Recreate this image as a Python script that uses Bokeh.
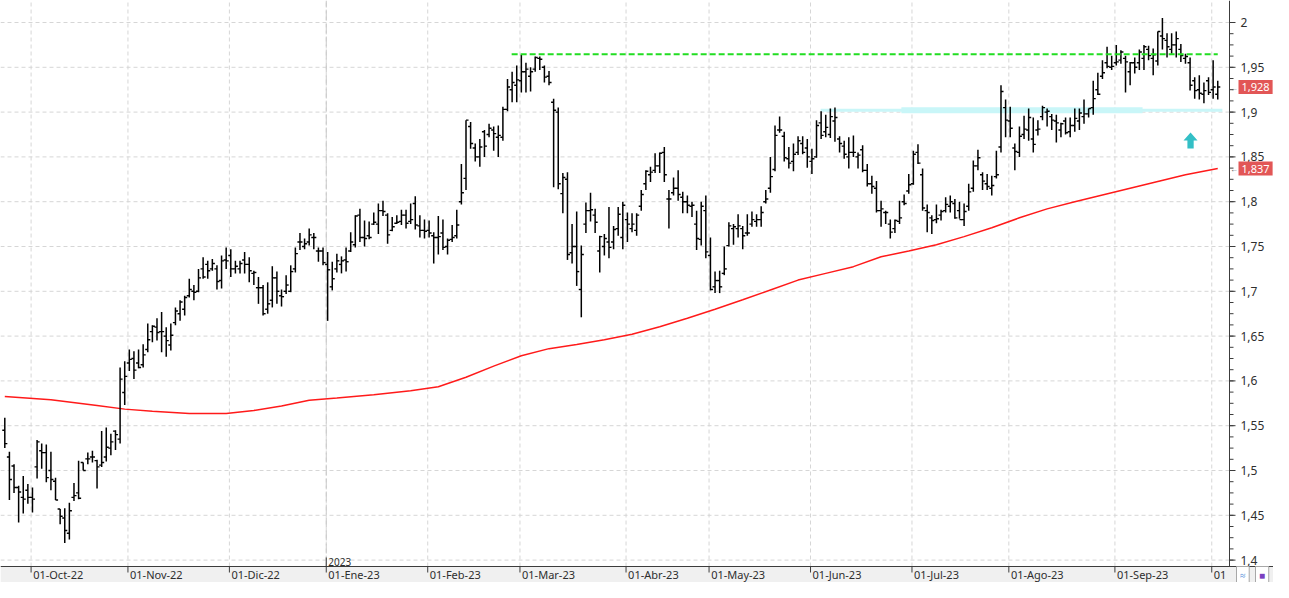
from bokeh.plotting import figure
from bokeh.models import Range1d, Label, LabelSet, ColumnDataSource
from bokeh.core.properties import value
from bokeh.embed import file_html
from bokeh.resources import INLINE

# ---------------- data (daily OHLC, index = trading day) ----------------
opens = [
    1.545, 1.515, 1.505, 1.481, 1.470, 1.478, 1.470, 1.504, 1.522, 1.520,
    1.500, 1.488, 1.457, 1.447, 1.430, 1.470, 1.475, 1.509, 1.513, 1.515,
    1.511, 1.506, 1.515, 1.525, 1.544, 1.535, 1.587, 1.620, 1.625, 1.620,
    1.618, 1.635, 1.655, 1.660, 1.655, 1.650, 1.640, 1.665, 1.675, 1.680,
    1.695, 1.700, 1.700, 1.725, 1.730, 1.725, 1.725, 1.712, 1.735, 1.740,
    1.725, 1.725, 1.735, 1.730, 1.720, 1.704, 1.704, 1.680, 1.690, 1.715,
    1.695, 1.700, 1.700, 1.725, 1.755, 1.750, 1.755, 1.760, 1.745, 1.745,
    1.730, 1.705, 1.725, 1.730, 1.735, 1.745, 1.752, 1.785, 1.760, 1.762,
    1.775, 1.775, 1.790, 1.785, 1.768, 1.776, 1.778, 1.785, 1.778, 1.798,
    1.773, 1.768, 1.768, 1.762, 1.760, 1.765, 1.750, 1.758, 1.762, 1.800,
    1.826, 1.884, 1.860, 1.850, 1.878, 1.875, 1.880, 1.872, 1.872, 1.903,
    1.925, 1.930, 1.935, 1.945, 1.940, 1.948, 1.960, 1.950, 1.940, 1.911,
    1.900, 1.809, 1.825, 1.743, 1.750, 1.702, 1.775, 1.790, 1.785, 1.745,
    1.750, 1.755, 1.755, 1.770, 1.760, 1.780, 1.770, 1.768, 1.795, 1.820,
    1.830, 1.835, 1.840, 1.855, 1.803, 1.810, 1.815, 1.805, 1.800, 1.795,
    1.775, 1.758, 1.790, 1.740, 1.705, 1.712, 1.720, 1.751, 1.770, 1.770,
    1.770, 1.765, 1.775, 1.778, 1.780, 1.800, 1.815, 1.836, 1.880, 1.873,
    1.848, 1.845, 1.855, 1.865, 1.860, 1.845, 1.850, 1.888, 1.878, 1.875,
    1.890, 1.870, 1.862, 1.850, 1.855, 1.850, 1.858, 1.835, 1.820, 1.815,
    1.790, 1.788, 1.775, 1.770, 1.778, 1.800, 1.812, 1.820, 1.855, 1.830,
    1.790, 1.782, 1.780, 1.785, 1.790, 1.795, 1.798, 1.790, 1.780, 1.795,
    1.815, 1.840, 1.830, 1.820, 1.815, 1.828, 1.861, 1.905, 1.890, 1.860,
    1.855, 1.875, 1.880, 1.870, 1.880, 1.895, 1.900, 1.895, 1.890, 1.880,
    1.890, 1.878, 1.885, 1.890, 1.895, 1.898, 1.905, 1.925, 1.940, 1.955,
    1.950, 1.955, 1.958, 1.960, 1.945, 1.955, 1.955, 1.960, 1.970, 1.960,
    1.957, 1.985, 1.980, 1.970, 1.975, 1.970, 1.960, 1.955, 1.935, 1.925,
    1.920, 1.935, 1.925, 1.920,
]
highs = [
    1.559, 1.521, 1.507, 1.483, 1.494, 1.485, 1.481, 1.534, 1.530, 1.529,
    1.521, 1.492, 1.457, 1.458, 1.464, 1.486, 1.511, 1.509, 1.520, 1.522,
    1.512, 1.544, 1.548, 1.541, 1.545, 1.615, 1.622, 1.635, 1.633, 1.635,
    1.641, 1.664, 1.662, 1.670, 1.677, 1.660, 1.664, 1.682, 1.690, 1.695,
    1.714, 1.707, 1.725, 1.738, 1.734, 1.736, 1.729, 1.740, 1.749, 1.747,
    1.734, 1.734, 1.744, 1.738, 1.723, 1.716, 1.707, 1.710, 1.728, 1.722,
    1.702, 1.718, 1.729, 1.749, 1.765, 1.759, 1.770, 1.765, 1.749, 1.749,
    1.744, 1.733, 1.742, 1.739, 1.749, 1.766, 1.785, 1.792, 1.779, 1.778,
    1.788, 1.798, 1.801, 1.787, 1.783, 1.785, 1.791, 1.791, 1.798, 1.806,
    1.785, 1.780, 1.779, 1.766, 1.784, 1.780, 1.759, 1.774, 1.791, 1.842,
    1.891, 1.889, 1.865, 1.870, 1.880, 1.887, 1.884, 1.885, 1.906, 1.937,
    1.945, 1.952, 1.964, 1.955, 1.950, 1.962, 1.962, 1.952, 1.946, 1.915,
    1.905, 1.832, 1.833, 1.775, 1.789, 1.751, 1.799, 1.810, 1.792, 1.762,
    1.764, 1.794, 1.773, 1.794, 1.800, 1.788, 1.787, 1.787, 1.813, 1.835,
    1.839, 1.854, 1.855, 1.861, 1.813, 1.827, 1.835, 1.811, 1.807, 1.800,
    1.790, 1.800, 1.807, 1.760, 1.722, 1.723, 1.750, 1.777, 1.775, 1.786,
    1.773, 1.786, 1.789, 1.786, 1.795, 1.813, 1.850, 1.885, 1.895, 1.878,
    1.861, 1.865, 1.873, 1.873, 1.870, 1.859, 1.891, 1.901, 1.897, 1.904,
    1.905, 1.873, 1.868, 1.872, 1.874, 1.855, 1.863, 1.842, 1.829, 1.823,
    1.801, 1.790, 1.780, 1.780, 1.801, 1.808, 1.831, 1.857, 1.864, 1.837,
    1.797, 1.785, 1.797, 1.791, 1.805, 1.807, 1.803, 1.800, 1.798, 1.820,
    1.846, 1.858, 1.833, 1.831, 1.829, 1.857, 1.930, 1.914, 1.906, 1.865,
    1.884, 1.896, 1.904, 1.894, 1.891, 1.907, 1.904, 1.898, 1.897, 1.888,
    1.894, 1.894, 1.904, 1.904, 1.914, 1.904, 1.935, 1.944, 1.958, 1.973,
    1.963, 1.975, 1.969, 1.963, 1.956, 1.961, 1.970, 1.975, 1.974, 1.971,
    1.990, 2.005, 1.988, 1.988, 1.990, 1.976, 1.965, 1.961, 1.939, 1.941,
    1.933, 1.939, 1.958, 1.935,
]
lows = [
    1.525, 1.467, 1.475, 1.442, 1.452, 1.463, 1.453, 1.491, 1.502, 1.487,
    1.478, 1.467, 1.440, 1.419, 1.423, 1.466, 1.468, 1.500, 1.507, 1.509,
    1.480, 1.504, 1.510, 1.517, 1.523, 1.530, 1.573, 1.611, 1.602, 1.614,
    1.615, 1.632, 1.643, 1.645, 1.632, 1.627, 1.634, 1.662, 1.667, 1.673,
    1.693, 1.690, 1.699, 1.714, 1.714, 1.723, 1.702, 1.703, 1.725, 1.716,
    1.720, 1.720, 1.720, 1.710, 1.707, 1.686, 1.673, 1.675, 1.682, 1.686,
    1.683, 1.697, 1.699, 1.721, 1.746, 1.747, 1.751, 1.747, 1.733, 1.729,
    1.667, 1.701, 1.721, 1.720, 1.722, 1.744, 1.749, 1.755, 1.750, 1.758,
    1.774, 1.764, 1.784, 1.753, 1.767, 1.775, 1.774, 1.770, 1.775, 1.769,
    1.760, 1.759, 1.760, 1.731, 1.741, 1.746, 1.741, 1.755, 1.759, 1.797,
    1.813, 1.859, 1.845, 1.839, 1.850, 1.872, 1.857, 1.850, 1.868, 1.901,
    1.911, 1.911, 1.922, 1.922, 1.923, 1.945, 1.947, 1.933, 1.930, 1.816,
    1.814, 1.787, 1.735, 1.731, 1.706, 1.671, 1.765, 1.778, 1.765, 1.721,
    1.740, 1.737, 1.747, 1.762, 1.747, 1.755, 1.766, 1.762, 1.790, 1.813,
    1.822, 1.832, 1.832, 1.822, 1.770, 1.807, 1.801, 1.787, 1.787, 1.783,
    1.746, 1.751, 1.737, 1.701, 1.698, 1.698, 1.718, 1.750, 1.752, 1.760,
    1.747, 1.762, 1.772, 1.772, 1.772, 1.798, 1.810, 1.834, 1.877, 1.845,
    1.837, 1.834, 1.852, 1.853, 1.838, 1.831, 1.849, 1.870, 1.872, 1.871,
    1.867, 1.855, 1.848, 1.837, 1.850, 1.837, 1.833, 1.817, 1.809, 1.788,
    1.772, 1.775, 1.759, 1.765, 1.775, 1.796, 1.809, 1.819, 1.842, 1.790,
    1.766, 1.764, 1.776, 1.779, 1.788, 1.788, 1.781, 1.781, 1.773, 1.790,
    1.811, 1.835, 1.813, 1.813, 1.807, 1.826, 1.855, 1.872, 1.872, 1.835,
    1.850, 1.870, 1.868, 1.855, 1.874, 1.891, 1.884, 1.880, 1.866, 1.872,
    1.875, 1.872, 1.878, 1.880, 1.887, 1.894, 1.897, 1.919, 1.937, 1.949,
    1.947, 1.952, 1.954, 1.922, 1.930, 1.943, 1.947, 1.947, 1.958, 1.941,
    1.952, 1.970, 1.961, 1.965, 1.961, 1.956, 1.954, 1.924, 1.915, 1.914,
    1.910, 1.919, 1.915, 1.914,
]
closes = [
    1.530, 1.490, 1.481, 1.476, 1.468, 1.470, 1.468, 1.532, 1.520, 1.492,
    1.490, 1.467, 1.449, 1.433, 1.455, 1.472, 1.469, 1.500, 1.513, 1.515,
    1.504, 1.509, 1.526, 1.532, 1.540, 1.602, 1.605, 1.624, 1.612, 1.615,
    1.629, 1.646, 1.661, 1.654, 1.655, 1.645, 1.651, 1.678, 1.688, 1.693,
    1.702, 1.699, 1.715, 1.716, 1.723, 1.731, 1.711, 1.734, 1.734, 1.725,
    1.728, 1.731, 1.730, 1.723, 1.721, 1.704, 1.675, 1.686, 1.715, 1.700,
    1.694, 1.707, 1.722, 1.742, 1.755, 1.753, 1.763, 1.760, 1.745, 1.732,
    1.724, 1.714, 1.734, 1.734, 1.733, 1.755, 1.784, 1.760, 1.759, 1.760,
    1.777, 1.790, 1.789, 1.763, 1.772, 1.777, 1.785, 1.776, 1.780, 1.774,
    1.768, 1.767, 1.765, 1.760, 1.761, 1.749, 1.757, 1.760, 1.774, 1.810,
    1.891, 1.865, 1.850, 1.861, 1.862, 1.882, 1.876, 1.874, 1.903, 1.928,
    1.933, 1.936, 1.945, 1.948, 1.945, 1.961, 1.959, 1.939, 1.933, 1.902,
    1.820, 1.827, 1.741, 1.750, 1.722, 1.741, 1.790, 1.791, 1.777, 1.761,
    1.759, 1.749, 1.769, 1.786, 1.796, 1.775, 1.775, 1.785, 1.808, 1.834,
    1.833, 1.840, 1.854, 1.830, 1.803, 1.815, 1.808, 1.800, 1.796, 1.796,
    1.759, 1.795, 1.744, 1.702, 1.712, 1.705, 1.725, 1.773, 1.772, 1.773,
    1.762, 1.765, 1.780, 1.780, 1.788, 1.803, 1.828, 1.874, 1.880, 1.849,
    1.843, 1.853, 1.868, 1.855, 1.850, 1.848, 1.885, 1.874, 1.883, 1.895,
    1.894, 1.865, 1.853, 1.855, 1.855, 1.852, 1.835, 1.820, 1.817, 1.790,
    1.792, 1.788, 1.766, 1.779, 1.782, 1.798, 1.819, 1.853, 1.843, 1.793,
    1.788, 1.779, 1.781, 1.789, 1.797, 1.800, 1.782, 1.780, 1.789, 1.811,
    1.840, 1.849, 1.823, 1.817, 1.818, 1.830, 1.923, 1.891, 1.882, 1.856,
    1.873, 1.881, 1.894, 1.864, 1.881, 1.905, 1.901, 1.891, 1.888, 1.887,
    1.877, 1.885, 1.893, 1.899, 1.898, 1.904, 1.915, 1.920, 1.944, 1.951,
    1.951, 1.956, 1.967, 1.956, 1.955, 1.950, 1.967, 1.973, 1.963, 1.964,
    1.990, 1.982, 1.973, 1.975, 1.982, 1.963, 1.962, 1.930, 1.924, 1.921,
    1.924, 1.922, 1.928, 1.928,
]

# moving average (red line), read at selected trading-day indices
ma_index = [0, 10, 20, 26, 32, 40, 48, 54, 60, 66, 72, 80, 88, 94, 100, 106, 112,
            118, 124, 130, 136, 142, 148, 154, 160, 166, 172, 178, 184, 190, 196,
            202, 208, 214, 220, 226, 232, 238, 244, 250, 256, 263]
ma_values = [1.5825, 1.5790, 1.5725, 1.5685, 1.5660, 1.5635, 1.5635, 1.5670, 1.5720,
             1.5785, 1.5810, 1.5845, 1.5890, 1.5935, 1.6040, 1.6165, 1.6280, 1.6360,
             1.6405, 1.6460, 1.6520, 1.6605, 1.6700, 1.6800, 1.6905, 1.7015, 1.7125,
             1.7200, 1.7275, 1.7385, 1.7450, 1.7520, 1.7610, 1.7710, 1.7820, 1.7920,
             1.8000, 1.8075, 1.8150, 1.8225, 1.8300, 1.8370]

# month axis: first trading-day index of each month and its label
month_first_bar = [6, 27, 49, 70, 92, 112, 135, 153, 175, 197, 218, 241, 262]
month_labels = ["01-Oct-22", "01-Nov-22", "01-Dic-22", "01-Ene-23", "01-Feb-23",
                "01-Mar-23", "01-Abr-23", "01-May-23", "01-Jun-23", "01-Jul-23",
                "01-Ago-23", "01-Sep-23", "01"]
year_first_bar = 70
year_label = "2023"

# price axis
y_ticks = [1.4, 1.45, 1.5, 1.55, 1.6, 1.65, 1.7, 1.75, 1.8, 1.85, 1.9, 1.95, 2.0]
y_tick_labels = ["1,4", "1,45", "1,5", "1,55", "1,6", "1,65", "1,7", "1,75", "1,8",
                 "1,85", "1,9", "1,95", "2"]

# drawn levels
resistance_level = 1.9645
resistance_span = (109.9, 263.0)
support_thin = (176.9, 264.0, 1.9004, 1.9037)
support_thick = (194.4, 246.7, 1.8988, 1.9055)
arrow_x, arrow_tip, arrow_base, arrow_bottom = 257.1, 1.8772, 1.8683, 1.8594

last_close = closes[-1]
last_ma = ma_values[-1]

# ---------------- layout constants (pixels -> data) ----------------
PX_Y = 896.0            # pixels per unit of price
X0, DX = 4.3, 4.612     # pixel of bar 0, pixels per bar
W, H = 1273, 582
AXIS_X = 1229           # pixel column of the price axis line
AXIS_Y = 566            # pixel row of the date axis line


def vy(py):  # pixel row -> price
    return 2.0 - (py - 22) / PX_Y


def ix(px):  # pixel column -> bar index
    return (px - X0) / DX


FONT = "Noto Sans"
TXT = "#2e2e2e"
AXC = "#3c3c3c"
GRID = "#d6d6d6"

p = figure(width=W, height=H, output_backend="svg", toolbar_location=None,
           x_range=Range1d(ix(0), ix(W)), y_range=Range1d(vy(H), vy(0)),
           x_axis_location=None, y_axis_location=None,
           min_border_left=0, min_border_top=0, min_border_bottom=0, min_border_right=0)
p.outline_line_color = None
p.background_fill_color = "white"
p.border_fill_color = "white"
for g in p.grid:
    g.visible = False

month_ticks = [m - 0.3 for m in month_first_bar]
year_tick = year_first_bar - 0.3
x_left, x_axis, x_right = ix(0), ix(AXIS_X), ix(W)
y_top, y_axis, y_bottom = vy(0), vy(AXIS_Y), vy(H)

# ---- grid ----
p.segment(x0=[x_left] * len(y_ticks), y0=y_ticks, x1=[x_axis] * len(y_ticks), y1=y_ticks,
          line_color=GRID, line_width=1, line_dash="4 3")
p.segment(x0=month_ticks, y0=[y_axis] * len(month_ticks), x1=month_ticks,
          y1=[y_top] * len(month_ticks), line_color=GRID, line_width=1, line_dash="4 3")
p.segment(x0=[year_tick], y0=[y_axis], x1=[year_tick], y1=[y_top],
          line_color="#c8c8c8", line_width=1, line_dash="10 3")

# support band (light cyan)
p.quad(left=[support_thin[0]], right=[support_thin[1]], bottom=[support_thin[2]],
       top=[support_thin[3]], fill_color="#c9f6f8", line_color=None)
p.quad(left=[support_thick[0]], right=[support_thick[1]], bottom=[support_thick[2]],
       top=[support_thick[3]], fill_color="#c9f6f8", line_color=None)

# moving average
p.line(ma_index, ma_values, line_color="#ff1a1a", line_width=1.5)

# OHLC bars
idx = list(range(len(closes)))
src = ColumnDataSource(dict(x=idx, o=opens, h=highs, l=lows, c=closes,
                            xl=[i - 0.55 for i in idx], xr=[i + 0.55 for i in idx]))
p.segment(x0="x", y0="l", x1="x", y1="h", source=src, line_color="black", line_width=1.5)
p.segment(x0="xl", y0="o", x1="x", y1="o", source=src, line_color="black", line_width=1.4)
p.segment(x0="x", y0="c", x1="xr", y1="c", source=src, line_color="black", line_width=1.4)

# resistance (green dashed)
p.segment(x0=[resistance_span[0]], y0=[resistance_level], x1=[resistance_span[1]],
          y1=[resistance_level], line_color="#22dd22", line_width=2, line_dash="6 3")

# cyan up arrow
hw, sw = 1.52, 0.68
p.patch([arrow_x - hw, arrow_x, arrow_x + hw, arrow_x + sw, arrow_x + sw, arrow_x - sw, arrow_x - sw],
        [arrow_base, arrow_tip, arrow_base, arrow_base, arrow_bottom, arrow_bottom, arrow_base],
        fill_color="#33bfc6", line_color=None)

# ---- price axis (right) ----
p.quad(left=[x_axis], right=[x_right], bottom=[y_axis], top=[y_top],
       fill_color="white", line_color=None)
p.segment(x0=[x_axis], y0=[y_axis], x1=[x_axis], y1=[y_top], line_color=AXC, line_width=1)
minor = [round(1.4 + k * 0.0125, 4) for k in range(49)]
p.segment(x0=[x_axis] * len(minor), y0=minor, x1=[ix(AXIS_X + 4)] * len(minor), y1=minor,
          line_color=AXC, line_width=1)
p.segment(x0=[x_axis] * len(y_ticks), y0=y_ticks, x1=[ix(AXIS_X + 6)] * len(y_ticks),
          y1=y_ticks, line_color=AXC, line_width=1)
ylab = ColumnDataSource(dict(x=[ix(AXIS_X + 11)] * len(y_ticks), y=y_ticks, text=y_tick_labels))
p.add_layout(LabelSet(x="x", y="y", text="text", source=ylab, text_font=value(FONT),
                      text_font_size="12px", text_color=TXT, text_baseline="middle",
                      text_align="left"))

# ---- date axis (bottom band) ----
p.quad(left=[x_left], right=[x_right], bottom=[y_bottom], top=[y_axis],
       fill_color="#f0f0f0", line_color=None)
p.segment(x0=[x_left], y0=[y_axis], x1=[x_right], y1=[y_axis], line_color=AXC, line_width=1)
p.segment(x0=month_ticks, y0=[y_axis] * len(month_ticks), x1=month_ticks,
          y1=[vy(AXIS_Y + 6)] * len(month_ticks), line_color=AXC, line_width=1)
p.segment(x0=[year_tick], y0=[y_axis], x1=[year_tick], y1=[vy(AXIS_Y - 9)],
          line_color=AXC, line_width=1)

lab_src = ColumnDataSource(dict(x=[t + 0.45 for t in month_ticks],
                                y=[vy(AXIS_Y + 8)] * len(month_ticks), text=month_labels))
p.add_layout(LabelSet(x="x", y="y", text="text", source=lab_src, text_font=value(FONT),
                      text_font_size="11px", text_color=TXT, text_baseline="middle",
                      text_align="left"))
p.add_layout(Label(x=year_tick + 0.45, y=vy(AXIS_Y - 5), text=year_label, text_font=FONT,
                   text_font_size="10px", text_color=TXT, text_baseline="middle",
                   text_align="left"))


# ---- value tags on the price axis ----
def fmt(v):
    return f"{v:.3f}".replace(".", ",")


for v in (last_close, last_ma):
    p.add_layout(Label(x=ix(AXIS_X + 9), y=v, text=fmt(v), text_font=FONT,
                       text_font_size="11px", text_color="white",
                       background_fill_color="#e25656", padding=3,
                       text_baseline="middle", text_align="left"))
    p.add_layout(Label(x=ix(AXIS_X + 0.5), y=v, text="←", text_font=FONT, text_font_size="8px",
                       text_color="#555555", text_baseline="middle", text_align="left"))

# two small buttons at the bottom right
p.add_layout(Label(x=ix(1236), y=vy(AXIS_Y + 8), text="\u00a0≈\u00a0", text_font=FONT,
                   text_font_size="10px", text_color="#3d7fd6", background_fill_color="white",
                   border_line_color="#a8a8a8", padding=1, text_baseline="middle",
                   text_align="left"))
p.add_layout(Label(x=ix(1255), y=vy(AXIS_Y + 8), text="\u00a0■\u00a0", text_font=FONT,
                   text_font_size="10px", text_color="#7a40c0", background_fill_color="white",
                   border_line_color="#a8a8a8", padding=1, text_baseline="middle",
                   text_align="left"))

open("out.html", "w").write(file_html(p, INLINE))
